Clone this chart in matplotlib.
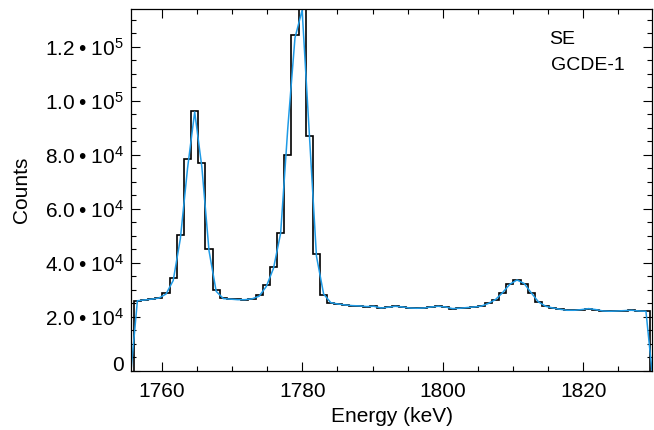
import numpy as np
import matplotlib
matplotlib.use('Agg')
import matplotlib.pyplot as plt
from matplotlib.ticker import MultipleLocator

# Arial-like font, mathtext in the same font for the 10^n labels
plt.rcParams['font.family'] = ['Liberation Sans', 'DejaVu Sans']
plt.rcParams['mathtext.fontset'] = 'custom'
plt.rcParams['mathtext.rm'] = 'Liberation Sans'
plt.rcParams['mathtext.it'] = 'Liberation Sans'
plt.rcParams['mathtext.default'] = 'regular'

# histogram binning (keV)
bin_start = 1756.0
bin_width = 1.0201

# measured counts per bin
counts = [26000, 26400, 26700, 27100, 28700, 34500, 50300, 78600, 96400, 77000,
          45300, 30150, 27000, 26800, 26500, 26400, 26800, 28000, 31800, 38600,
          50900, 79800, 124400, 140000, 86900, 43300, 28300, 25300, 24800, 24450,
          24200, 24100, 23850, 23960, 23330, 23600, 23960, 23700, 23330, 23220,
          23330, 23700, 23960, 23700, 23100, 23220, 23480, 23700, 24000, 25000,
          26450, 29040, 32110, 33700, 32370, 28900, 25560, 23960, 23330, 22850,
          22480, 22480, 22730, 23100, 22730, 22220, 22110, 22220, 22350, 22480,
          22220, 22110]

# fitted curve at bin centres
fit = [26000, 26300, 26600, 27000, 28500, 33500, 49000, 75000, 95900, 75500,
       44500, 29500, 26800, 26600, 26400, 26400, 26700, 27700, 31300, 38000,
       51000, 90000, 123300, 133600, 88000, 42500, 28500, 25300, 24800, 24450,
       24200, 24100, 23850, 23960, 23330, 23600, 23960, 23700, 23330, 23220,
       23330, 23700, 23960, 23700, 23100, 23220, 23480, 23700, 24000, 25000,
       26450, 29040, 32110, 33700, 32370, 28900, 25560, 23960, 23330, 22850,
       22480, 22480, 22730, 23100, 22730, 22220, 22110, 22220, 22350, 22480,
       22220, 22110]

x_range = (1755.6, 1829.8)
y_top = 134000
x_ticks = [1760, 1780, 1800, 1820]
y_ticks = [0, 20000, 40000, 60000, 80000, 100000, 120000]
y_tick_labels = ['0', r'2.0$\;$•$\;$10$^{4}$', r'4.0$\;$•$\;$10$^{4}$', r'6.0$\;$•$\;$10$^{4}$',
                 r'8.0$\;$•$\;$10$^{4}$', r'1.0$\;$•$\;$10$^{5}$', r'1.2$\;$•$\;$10$^{5}$']

edges = bin_start + bin_width * np.arange(len(counts) + 1)
centers = 0.5 * (edges[:-1] + edges[1:])

fig = plt.figure(figsize=(6.54, 4.30), dpi=100)
ax = fig.add_axes([131 / 654, 1 - 371 / 430, 521 / 654, 362 / 430])

ax.stairs(counts, edges, baseline=0, color='black', lw=1.2)
fit_x = np.concatenate([[x_range[0]], centers, [x_range[1]]])
fit_y = np.concatenate([[0], fit, [0]])
ax.plot(fit_x, fit_y, color='#1f9be6', lw=1.1)

ax.set_xlim(*x_range)
ax.set_ylim(0, y_top)
ax.set_xticks(x_ticks)
ax.set_yticks(y_ticks)
ax.set_yticklabels(y_tick_labels)
ax.get_yticklabels()[0].set_verticalalignment('baseline')
ax.xaxis.set_minor_locator(MultipleLocator(5))
ax.yaxis.set_minor_locator(MultipleLocator(5000))

ax.tick_params(which='both', direction='in', top=True, right=True, width=0.8)
ax.tick_params(which='major', length=6.5, labelsize=15)
ax.tick_params(which='minor', length=3.5)
ax.tick_params(axis='x', pad=8)
ax.tick_params(axis='y', pad=5)
for s in ax.spines.values():
    s.set_linewidth(0.9)

ax.set_xlabel('Energy (keV)', fontsize=15, labelpad=4)
ax.set_ylabel('Counts', fontsize=15, labelpad=10)

ax.text(0.803, 0.915, 'SE', transform=ax.transAxes, fontsize=14, va='center', ha='left')
ax.text(0.807, 0.845, 'GCDE-1', transform=ax.transAxes, fontsize=14, va='center', ha='left')

plt.savefig('out.png', dpi=100)
